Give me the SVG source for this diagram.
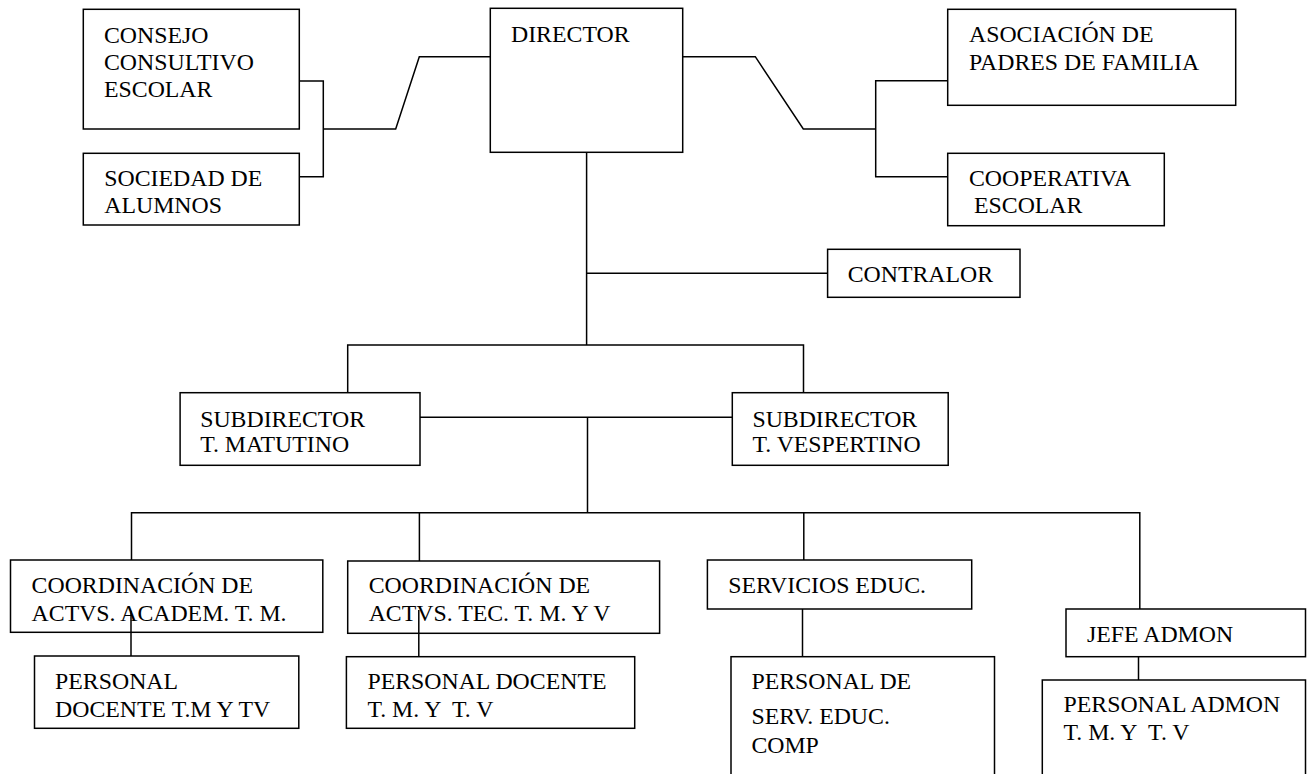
<svg xmlns="http://www.w3.org/2000/svg" width="1307" height="774" viewBox="0 0 1307 774">
<style>
.box{fill:#fff;stroke:#000;stroke-width:1.5}
.ln{fill:none;stroke:#000;stroke-width:1.5}
text{font-family:"Liberation Serif","Times New Roman",serif;font-size:23.8px;fill:#000}
</style>
<rect width="1307" height="774" fill="#fff"/>
<g id="connectors">
<polyline class="ln" points="299.3,81 323.3,81 323.3,176.7 299.3,176.7"/>
<polyline class="ln" points="323.3,129 395.7,129 419.3,56.7 490.3,56.7"/>
<polyline class="ln" points="682.7,56.7 755.3,56.7 803.3,129 875.7,129"/>
<polyline class="ln" points="947.7,80.7 875.7,80.7 875.7,176.7 947.7,176.7"/>
<line class="ln" x1="586.6" y1="152.3" x2="586.6" y2="345"/>
<line class="ln" x1="586.6" y1="273.3" x2="827.6" y2="273.3"/>
<polyline class="ln" points="347.7,392.7 347.7,345 803.5,345 803.5,392.7"/>
<line class="ln" x1="420" y1="417.3" x2="732.3" y2="417.3"/>
<line class="ln" x1="587.5" y1="417.3" x2="587.5" y2="512.7"/>
<polyline class="ln" points="131.5,560 131.5,512.7 1139.8,512.7 1139.8,609"/>
<line class="ln" x1="419.4" y1="512.7" x2="419.4" y2="561"/>
<line class="ln" x1="803.8" y1="512.7" x2="803.8" y2="560"/>
<line class="ln" x1="802.5" y1="609" x2="802.5" y2="656.7"/>
<line class="ln" x1="1138.5" y1="656.7" x2="1138.5" y2="680"/>
</g>
<g id="consejo">
<rect class="box" x="83.3" y="9.3" width="216" height="119.7"/>
<text x="104" y="42.5">CONSEJO</text>
<text x="104" y="69.5">CONSULTIVO</text>
<text x="104" y="97">ESCOLAR</text>
</g>
<g id="sociedad">
<rect class="box" x="83.3" y="153.3" width="216" height="71.7"/>
<text x="104.3" y="185.7">SOCIEDAD DE</text>
<text x="104.3" y="212.7">ALUMNOS</text>
</g>
<g id="director">
<rect class="box" x="490.3" y="8.3" width="192.4" height="144"/>
<text x="511" y="41.7">DIRECTOR</text>
</g>
<g id="asociacion">
<rect class="box" x="947.7" y="9.3" width="288" height="96"/>
<text x="969" y="42.3">ASOCIACIÓN DE</text>
<text x="969" y="70">PADRES DE FAMILIA</text>
</g>
<g id="cooperativa">
<rect class="box" x="947.7" y="153.3" width="216.6" height="72.4"/>
<text x="969" y="185.7">COOPERATIVA</text>
<text x="974" y="213.3">ESCOLAR</text>
</g>
<g id="contralor">
<rect class="box" x="827.6" y="249.3" width="192.4" height="48"/>
<text x="847.7" y="281.7">CONTRALOR</text>
</g>
<g id="subdirector-tm">
<rect class="box" x="180.1" y="392.7" width="239.9" height="72.6"/>
<text x="200.2" y="426.7">SUBDIRECTOR</text>
<text x="200.2" y="452.3">T. MATUTINO</text>
</g>
<g id="subdirector-tv">
<rect class="box" x="732.3" y="392.7" width="215.9" height="72.6"/>
<text x="752.4" y="426.7">SUBDIRECTOR</text>
<text x="752.4" y="452.3">T. VESPERTINO</text>
</g>
<g id="coord-academ">
<rect class="box" x="10.5" y="560" width="312.3" height="72.3"/>
<text x="31.6" y="593.3">COORDINACIÓN DE</text>
<text x="31.6" y="621">ACTVS. ACADEM. T. M.</text>
</g>
<g id="coord-tec">
<rect class="box" x="347.7" y="561" width="311.9" height="72.3"/>
<text x="368.7" y="593.3">COORDINACIÓN DE</text>
<text x="368.7" y="621.3">ACTVS. TEC. T. M. Y V</text>
</g>
<g id="connectors-inner">
<line class="ln" x1="131" y1="610.7" x2="131" y2="656"/>
<line class="ln" x1="418.8" y1="610" x2="418.8" y2="656.7"/>
</g>
<g id="servicios">
<rect class="box" x="707.4" y="560" width="264.3" height="49"/>
<text x="728.3" y="592.7">SERVICIOS EDUC.</text>
</g>
<g id="jefe-admon">
<rect class="box" x="1066" y="609" width="239.5" height="47.7"/>
<text x="1087" y="641.7">JEFE ADMON</text>
</g>
<g id="personal-docente-1">
<rect class="box" x="34.5" y="656" width="264.3" height="72.3"/>
<text x="55.1" y="689.3">PERSONAL</text>
<text x="55.1" y="716.7">DOCENTE T.M Y TV</text>
</g>
<g id="personal-docente-2">
<rect class="box" x="346.4" y="656.7" width="288.3" height="71.6"/>
<text x="367.4" y="689.3">PERSONAL DOCENTE</text>
<text x="367.4" y="716.7" xml:space="preserve">T. M. Y  T. V</text>
</g>
<g id="personal-serv">
<rect class="box" x="731" y="656.7" width="263.5" height="130"/>
<text x="751.4" y="688.7">PERSONAL DE</text>
<text x="751.4" y="724.3">SERV. EDUC.</text>
<text x="751.4" y="753.3">COMP</text>
</g>
<g id="personal-admon">
<rect class="box" x="1042.3" y="680" width="263.2" height="110"/>
<text x="1063.5" y="712.3">PERSONAL ADMON</text>
<text x="1063.5" y="740" xml:space="preserve">T. M. Y  T. V</text>
</g>
</svg>
